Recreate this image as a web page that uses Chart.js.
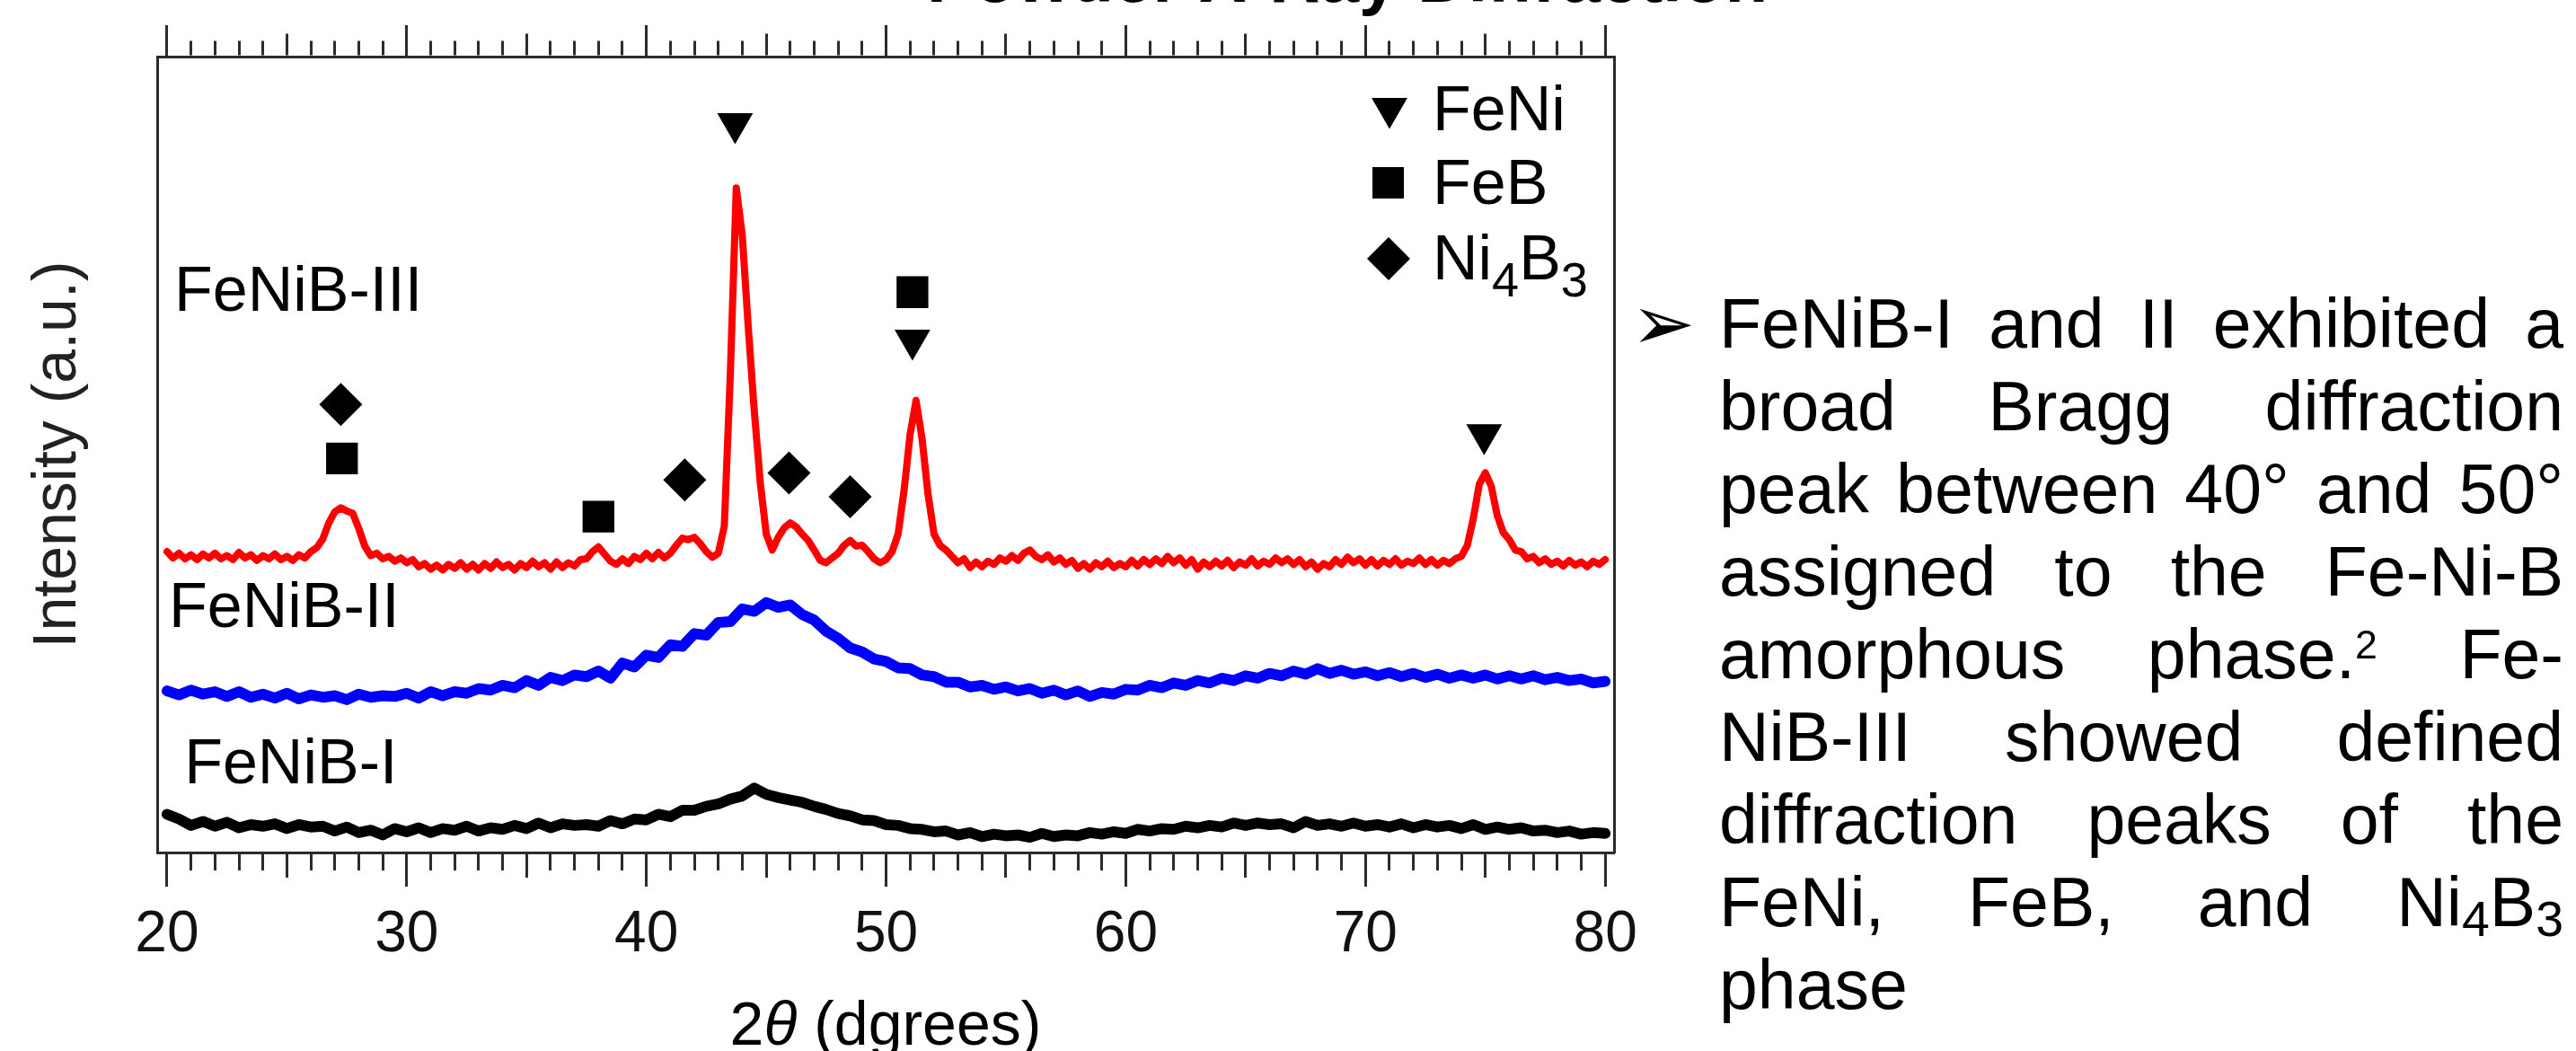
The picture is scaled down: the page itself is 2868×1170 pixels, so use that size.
<!DOCTYPE html>
<html>
<head>
<meta charset="utf-8">
<script src="https://cdn.jsdelivr.net/npm/chart.js@4.4.1/dist/chart.umd.min.js"></script>
<style>
  html, body { margin: 0; padding: 0; background: #fff; }
  body { width: 2868px; height: 1170px; position: relative; overflow: hidden; font-family: 'Liberation Sans', Arial, sans-serif; }
  #wrap { position: absolute; left: 0; top: 0; width: 2868px; height: 1170px; }
  #bullet { position: absolute; left: 1816px; top: 317px; font-family: 'DejaVu Sans', sans-serif; font-size: 85px; line-height: 85px; color: #000; }
  #notes { position: absolute; left: 1914px; top: 314px; width: 940px; font-size: 77px; line-height: 92px; color: #000; }
  #notes div { text-align: justify; text-align-last: justify; }
  #notes div.last { text-align: left; text-align-last: left; }
  #notes sup { font-size: 0.58em; position: relative; top: -0.5em; vertical-align: baseline; line-height: 0; }
  #notes sub { font-size: 0.72em; position: relative; top: 0.19em; vertical-align: baseline; line-height: 0; }
</style>
</head>
<body>
<div id="wrap"><canvas id="xrd" width="2868" height="1170"></canvas></div>
<div id="bullet">➢</div>
<div id="notes">
  <div>FeNiB-I and II exhibited a</div>
  <div>broad Bragg diffraction</div>
  <div>peak between 40° and 50°</div>
  <div>assigned to the Fe-Ni-B</div>
  <div>amorphous phase.<sup>2</sup> Fe-</div>
  <div>NiB-III showed defined</div>
  <div>diffraction peaks of the</div>
  <div>FeNi, FeB, and Ni<sub>4</sub>B<sub>3</sub></div>
  <div class="last">phase</div>
</div>
<script>
// 2theta axis
const majorTicks = [20, 30, 40, 50, 60, 70, 80];

// FeNiB-I (black), 20..80 every 0.5 deg
const blackStart = 20, blackStep = 0.5;
const blackIntensity = [
  4.8, 4.2, 3.4, 3.9, 3.3, 3.8, 3.1, 3.5, 3.3, 3.6,
  3.0, 3.5, 3.2, 3.3, 2.7, 3.2, 2.5, 2.8, 2.2, 3.0,
  2.6, 3.1, 2.5, 3.0, 2.8, 3.3, 2.7, 3.1, 2.9, 3.4,
  3.0, 3.7, 3.1, 3.6, 3.4, 3.5, 3.3, 4.0, 3.6, 4.2,
  4.1, 4.8, 4.5, 5.3, 5.3, 5.8, 6.1, 6.7, 7.1, 8.1,
  7.3, 6.9, 6.6, 6.3, 5.8, 5.4, 4.9, 4.6, 4.1, 4.0,
  3.5, 3.4, 3.0, 2.9, 2.6, 2.7, 2.2, 2.5, 2.0, 2.3,
  2.1, 2.2, 1.9, 2.4, 2.0, 2.2, 2.1, 2.5, 2.3, 2.6,
  2.4, 2.9, 2.7, 3.0, 2.9, 3.3, 3.1, 3.4, 3.2, 3.7,
  3.4, 3.7, 3.5, 3.6, 3.1, 3.9, 3.4, 3.6, 3.3, 3.7,
  3.3, 3.5, 3.2, 3.6, 3.1, 3.5, 3.2, 3.4, 3.0, 3.5,
  2.9, 3.2, 2.9, 3.1, 2.7, 2.8, 2.5, 2.7, 2.3, 2.5,
  2.4
];

// FeNiB-II (blue), 20..80 every 0.5 deg
const blueStart = 20, blueStep = 0.5;
const blueIntensity = [
  20.3, 19.8, 20.4, 19.9, 20.2, 19.6, 20.2, 19.5, 19.9, 19.4,
  20.0, 19.3, 19.8, 19.5, 19.7, 19.2, 19.9, 19.5, 19.7, 19.6,
  20.0, 19.4, 20.2, 19.7, 20.2, 20.0, 20.6, 20.4, 21.0, 20.7,
  21.6, 21.0, 22.0, 21.6, 22.3, 22.1, 22.8, 21.9, 23.8, 23.3,
  24.8, 24.5, 26.1, 25.9, 27.5, 27.3, 28.9, 29.0, 30.6, 30.3,
  31.4, 30.8, 31.1, 29.9, 29.2, 27.8, 26.9, 25.7, 25.2, 24.3,
  24.0, 23.2, 23.1, 22.3, 22.1, 21.4, 21.4, 20.8, 21.0, 20.5,
  20.8, 20.3, 20.6, 20.0, 20.4, 19.8, 20.3, 19.6, 20.1, 19.9,
  20.5, 20.4, 21.0, 20.7, 21.3, 21.0, 21.6, 21.3, 21.9, 21.6,
  22.2, 21.9, 22.5, 22.2, 22.8, 22.4, 23.1, 22.5, 22.9, 22.4,
  22.7, 22.2, 22.6, 22.1, 22.5, 22.0, 22.4, 21.9, 22.3, 21.9,
  22.3, 21.8, 22.2, 21.8, 22.2, 21.7, 22.0, 21.6, 21.8, 21.3,
  21.5
];

// FeNiB-III (red), 20..80 every 0.25 deg, one row per degree
const redStart = 20, redStep = 0.25;
const redIntensity = [
  37.8, 37.0, 37.6, 36.9,   // 20
  37.4, 36.8, 37.5, 37.0,   // 21
  37.6, 36.9, 37.3, 36.8,   // 22
  37.7, 37.0, 37.4, 36.7,   // 23
  37.3, 36.9, 37.5, 36.8,   // 24
  37.2, 36.7, 37.4, 37.0,   // 25
  37.8, 38.3, 39.4, 41.4,   // 26
  42.8, 43.3, 42.9, 42.6,   // 27
  40.7, 38.5, 37.3, 37.6,   // 28
  36.9, 37.2, 36.6, 37.0,   // 29
  36.4, 36.8, 35.9, 36.3,   // 30
  35.6, 36.1, 35.5, 36.2,   // 31
  35.7, 36.4, 35.6, 36.2,   // 32
  35.5, 36.3, 35.7, 36.5,   // 33
  35.8, 36.2, 35.5, 36.3,   // 34
  35.8, 36.6, 35.9, 36.4,   // 35
  35.6, 36.5, 35.8, 36.4,   // 36
  36.0, 36.8, 36.9, 37.8,   // 37
  38.4, 37.5, 36.6, 36.2,   // 38
  36.9, 36.3, 37.2, 36.8,   // 39
  37.6, 36.9, 37.7, 37.0,   // 40
  37.6, 38.6, 39.5, 39.3,   // 41
  39.6, 38.8, 37.8, 37.1,   // 42
  37.6, 41.0, 60.0, 83.5,   // 43
  77.5, 66.0, 55.5, 46.5,   // 44
  40.0, 38.0, 39.6, 40.8,   // 45
  41.4, 40.9, 40.0, 39.2,   // 46
  38.0, 36.7, 36.4, 37.0,   // 47
  37.6, 38.6, 39.2, 38.5,   // 48
  38.6, 37.8, 36.9, 36.4,   // 49
  36.8, 37.8, 40.0, 45.5,   // 50
  52.5, 56.8, 52.0, 45.0,   // 51
  40.0, 38.6, 38.0, 37.2,   // 52
  36.4, 36.9, 35.8, 36.5,   // 53
  35.9, 36.6, 36.2, 37.0,   // 54
  36.6, 37.3, 36.7, 37.6,   // 55
  38.0, 37.2, 36.8, 37.4,   // 56
  36.5, 37.0, 36.2, 36.7,   // 57
  35.7, 36.3, 35.6, 36.4,   // 58
  35.9, 36.6, 35.8, 36.3,   // 59
  35.9, 36.7, 36.0, 36.8,   // 60
  36.2, 36.9, 36.3, 37.2,   // 61
  36.4, 37.0, 36.1, 36.8,   // 62
  35.6, 36.5, 35.9, 36.6,   // 63
  36.0, 36.7, 35.8, 36.5,   // 64
  36.1, 36.9, 36.0, 36.6,   // 65
  36.2, 37.0, 36.4, 36.9,   // 66
  36.2, 36.8, 35.9, 36.5,   // 67
  35.6, 36.3, 35.9, 36.8,   // 68
  36.2, 37.1, 36.4, 36.9,   // 69
  36.1, 36.8, 36.0, 36.7,   // 70
  36.2, 36.9, 36.1, 36.6,   // 71
  36.3, 37.0, 36.2, 36.8,   // 72
  36.1, 36.7, 36.3, 36.9,   // 73
  37.2, 38.6, 42.0, 46.3,   // 74
  47.7, 46.0, 42.3, 40.2,   // 75
  39.3, 38.0, 37.8, 36.9,   // 76
  37.2, 36.4, 36.9, 36.2,   // 77
  36.6, 36.0, 36.7, 36.1,   // 78
  36.5, 35.9, 36.6, 36.2,   // 79
  36.8                      // 80
];

// phase markers
const feNiPeaks = [43.7, 51.1, 74.95];
const feNiHeights = [91.6, 64.4, 52.5];
const feBPeaks = [27.3, 38.0, 51.1];
const feBHeights = [49.5, 42.2, 70.4];
const ni4b3Peaks = [27.25, 41.6, 45.95, 48.5];
const ni4b3Heights = [56.3, 46.8, 47.7, 44.7];

const sampleNames = ['FeNiB-III', 'FeNiB-II', 'FeNiB-I'];

const FONT = "'Liberation Sans', Arial, sans-serif";
const AXIS = '#2b2b2b';

const toPoints = (vals, start, step) => vals.map((v, i) => ({x: start + i * step, y: v}));
const pairs = (xs, ys) => xs.map((x, i) => ({x: x, y: ys[i]}));

const allTicks = [];
for (let v = majorTicks[0]; v <= majorTicks[majorTicks.length - 1]; v++) allTicks.push(v);

const setTicks = scale => { scale.ticks = allTicks.map(v => ({value: v})); };

const bottomDash = c => {
  if (!c.tick) return [];
  const v = c.tick.value;
  if (v % 10 === 0) return [];
  return v % 5 === 0 ? [26, 200] : [18, 200];
};
const topDash = c => {
  if (!c.tick) return [];
  const v = c.tick.value;
  if (v % 10 === 0) return [];
  return v % 5 === 0 ? [0, 9.5, 24, 200] : [0, 17.5, 16, 200];
};

function marker(ctx, style, x, y, r) {
  ctx.beginPath();
  if (style === 'down') {
    ctx.moveTo(x, y + r);
    ctx.lineTo(x - r * 0.866, y - r / 2);
    ctx.lineTo(x + r * 0.866, y - r / 2);
  } else if (style === 'square') {
    ctx.rect(x - r, y - r, 2 * r, 2 * r);
  } else {
    ctx.moveTo(x, y - r);
    ctx.lineTo(x + r, y);
    ctx.lineTo(x, y + r);
    ctx.lineTo(x - r, y);
  }
  ctx.closePath();
  ctx.fill();
}

const annotate = {
  id: 'annotate',
  afterDraw(chart) {
    const {ctx, chartArea: a, scales: {x, y}} = chart;
    ctx.save();
    ctx.fillStyle = '#000';
    ctx.textBaseline = 'alphabetic';
    ctx.textAlign = 'left';

    // cut-off figure title
    ctx.font = 'bold 78px ' + FONT;
    ctx.textAlign = 'center';
    ctx.fillText('Powder X-Ray Diffraction', 1500, 2);
    ctx.textAlign = 'left';

    // sample names
    ctx.font = '70px ' + FONT;
    const nameAt = [[20.3, 68.1], [20.08, 28.3], [20.72, 8.7]];
    sampleNames.forEach((n, i) => {
      ctx.fillText(n, x.getPixelForValue(nameAt[i][0]), y.getPixelForValue(nameAt[i][1]));
    });

    // legend
    const mx = a.right - 250, tx = a.right - 202;
    marker(ctx, 'down', mx, a.top + 57.5, 23);
    marker(ctx, 'square', mx - 1.5, a.top + 140.5, 17.5);
    marker(ctx, 'diamond', mx - 1, a.top + 225, 24);
    ctx.font = '70px ' + FONT;
    ctx.fillText('FeNi', tx, a.top + 82);
    ctx.fillText('FeB', tx, a.top + 164);
    let px = tx;
    const parts = [['Ni', 70, 0], ['4', 54, 19], ['B', 70, 0], ['3', 54, 19]];
    parts.forEach(p => {
      ctx.font = p[1] + 'px ' + FONT;
      ctx.fillText(p[0], px, a.top + 248 + p[2]);
      px += ctx.measureText(p[0]).width;
    });

    // x axis title with italic theta
    const tparts = [['2', 'normal'], ['θ', 'italic'], [' (dgrees)', 'normal']];
    let total = 0;
    tparts.forEach(p => { ctx.font = p[1] + ' 68px ' + FONT; total += ctx.measureText(p[0]).width; });
    let sx = (a.left + a.right) / 2 - total / 2;
    tparts.forEach(p => {
      ctx.font = p[1] + ' 68px ' + FONT;
      ctx.fillText(p[0], sx, 1163);
      sx += ctx.measureText(p[0]).width;
    });
    ctx.restore();
  }
};

const markerSet = (data, style, radius, rot) => ({
  data: data,
  pointStyle: style,
  pointRadius: radius,
  pointHoverRadius: radius,
  pointRotation: rot,
  pointBackgroundColor: '#000',
  pointBorderWidth: 0,
  showLine: false,
  order: 0
});

const lineSet = (data, color, width) => ({
  data: data,
  borderColor: color,
  borderWidth: width,
  borderJoinStyle: 'round',
  borderCapStyle: 'round',
  pointRadius: 0,
  pointHoverRadius: 0,
  showLine: true,
  tension: 0,
  fill: false,
  order: 1
});

new Chart(document.getElementById('xrd'), {
  type: 'scatter',
  data: {
    datasets: [
      markerSet(pairs(feNiPeaks, feNiHeights), 'triangle', 23, 180),
      markerSet(pairs(feBPeaks, feBHeights), 'rect', 25, 0),
      markerSet(pairs(ni4b3Peaks, ni4b3Heights), 'rectRot', 24, 0),
      lineSet(toPoints(redIntensity, redStart, redStep), '#ff0000', 8),
      lineSet(toPoints(blueIntensity, blueStart, blueStep), '#0000ff', 12),
      lineSet(toPoints(blackIntensity, blackStart, blackStep), '#000000', 12)
    ]
  },
  options: {
    responsive: false,
    animation: false,
    devicePixelRatio: 1,
    layout: { padding: 0 },
    plugins: { legend: { display: false }, tooltip: { enabled: false } },
    scales: {
      x: {
        type: 'linear', position: 'bottom', min: 19.59, max: 80.37,
        afterBuildTicks: setTicks,
        afterFit: s => { s.height = 221; },
        border: { display: true, color: AXIS, width: 3 },
        grid: { display: true, drawOnChartArea: false, drawTicks: true, tickLength: 38, tickWidth: 3, tickColor: AXIS, tickBorderDash: bottomDash },
        ticks: {
          autoSkip: false, maxRotation: 0, padding: 16, color: '#111',
          font: { family: FONT, size: 64 },
          callback: v => majorTicks.includes(v) ? String(v) : ''
        }
      },
      x2: {
        type: 'linear', position: 'top', min: 19.59, max: 80.37,
        afterBuildTicks: setTicks,
        afterFit: s => { s.height = 63; },
        border: { display: true, color: AXIS, width: 3 },
        grid: { display: true, drawOnChartArea: false, drawTicks: true, tickLength: 35, tickWidth: 3, tickColor: AXIS, tickBorderDash: topDash },
        ticks: { autoSkip: false, maxRotation: 0, padding: 0, font: { size: 10 }, callback: () => '' }
      },
      y: {
        type: 'linear', position: 'left', min: 0, max: 100,
        afterFit: s => { s.width = 175; },
        border: { display: true, color: AXIS, width: 3 },
        grid: { display: false },
        ticks: { display: false },
        title: { display: true, text: 'Intensity (a.u.)', color: '#222', font: { family: FONT, size: 68 }, padding: { top: 24, bottom: 0 } }
      },
      y2: {
        type: 'linear', position: 'right', min: 0, max: 100,
        afterFit: s => { s.width = 2868 - 1797; },
        border: { display: true, color: AXIS, width: 3 },
        grid: { display: false },
        ticks: { display: false }
      }
    }
  },
  plugins: [annotate]
});
</script>
</body>
</html>
